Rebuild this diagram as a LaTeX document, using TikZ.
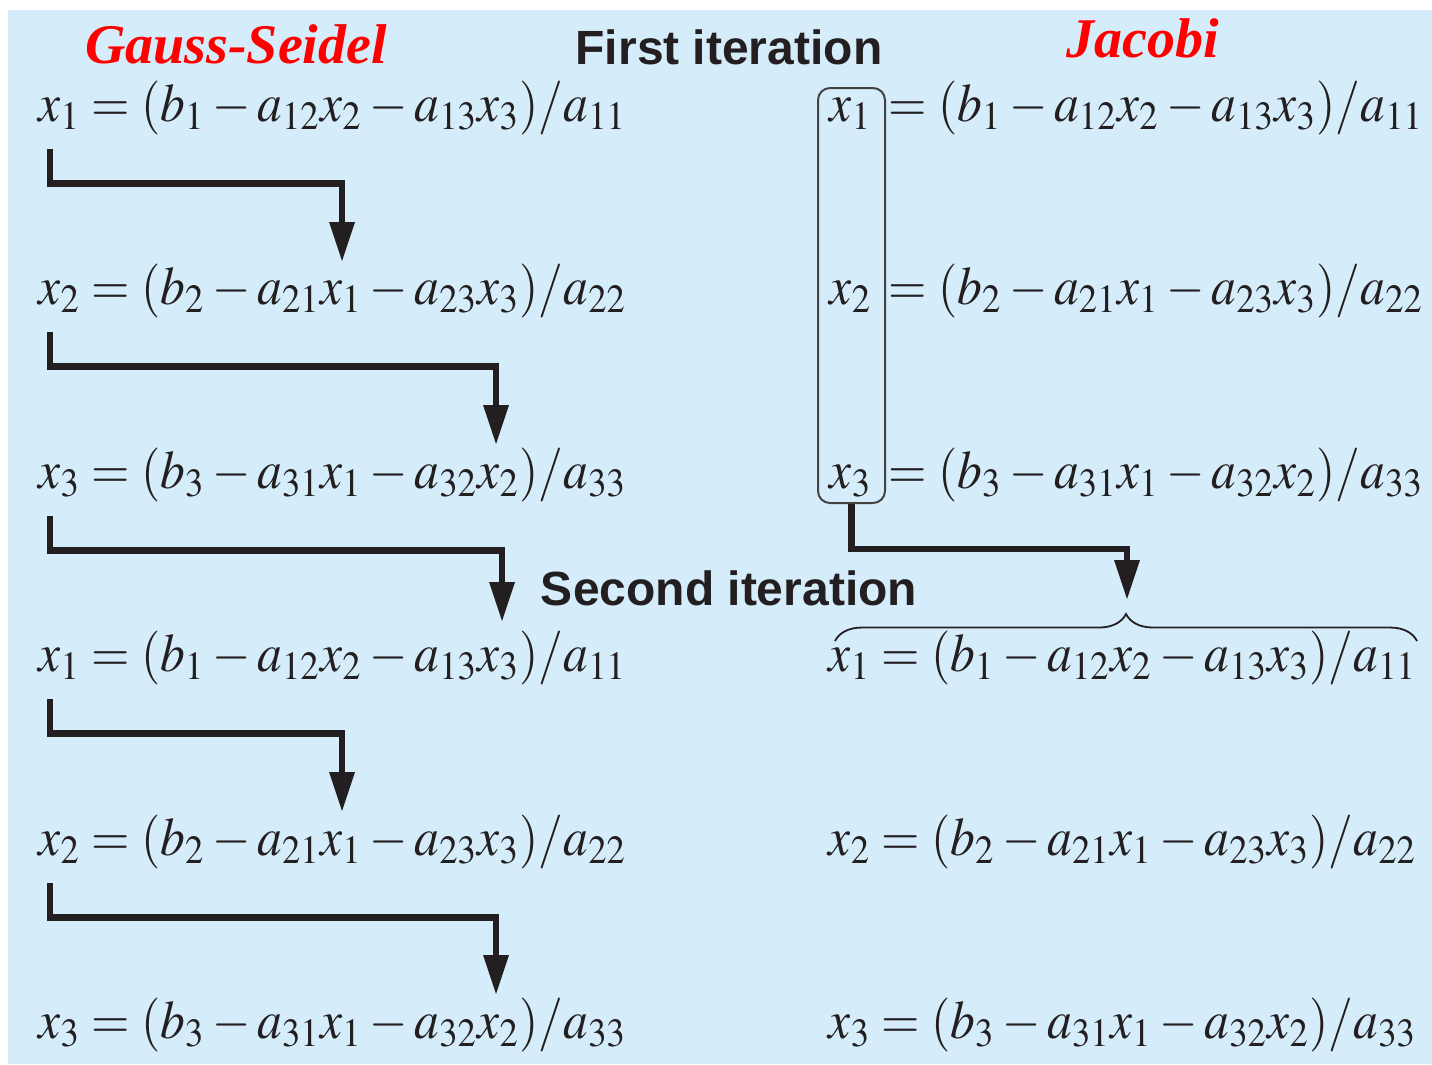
\documentclass[tikz,border=0pt]{standalone}
\usepackage{mathptmx}
\usepackage{fontspec}
\setmainfont{Liberation Serif}
\setsansfont{Liberation Sans}
\usetikzlibrary{arrows.meta,decorations.pathreplacing,positioning}
\definecolor{panelblue}{RGB}{213,237,251}
\definecolor{inkgray}{RGB}{35,31,32}
\definecolor{titlered}{RGB}{255,0,0}
\newcommand{\rhsone}{(b_1 - a_{12}x_2 - a_{13}x_3)/a_{11}}
\newcommand{\rhstwo}{(b_2 - a_{21}x_1 - a_{23}x_3)/a_{22}}
\newcommand{\rhsthree}{(b_3 - a_{31}x_1 - a_{32}x_2)/a_{33}}
\newcommand{\narrow}[1]{\scalebox{0.915}[1]{#1}}
\begin{document}
\begin{tikzpicture}[x=0.25pt, y=-0.25pt,
  eqn/.style={anchor=base west, inner sep=0pt, text=inkgray, font=\fontsize{13.5}{16}\selectfont},
  var/.style={anchor=base, inner sep=0pt, text=inkgray, font=\fontsize{13.5}{16}\selectfont},
  method/.style={inner sep=0pt, text=titlered, font=\fontsize{14}{17}\selectfont\bfseries\itshape},
  heading/.style={inner sep=0pt, text=inkgray, font=\fontsize{12}{14}\selectfont\sffamily\bfseries},
  flow/.style={draw=inkgray, line width=1.6pt, line join=miter, -{Triangle[width=6pt,length=10pt]}},
  varbox/.style={draw=inkgray!85, line width=0.5pt, rounded corners=3pt, minimum width=16.75pt, minimum height=103.75pt, inner sep=0pt},
  jbbrace/.style={draw=inkgray, line width=0.45pt, decorate, decoration={brace, amplitude=6.75pt}}]
  \useasboundingbox (0,0) rectangle (1432,1064);
  \fill[panelblue] (8,10) rectangle (1432,1064);

  % Titles
  \node[method] (gslabel) at (236,44) {Gauss-Seidel};
  \node[method] (jblabel) at (1143,38) {Jacobi};
  \node[heading] (first) at (729,47) {First iteration};
  \node[heading] (second) at (729,588) {Second iteration};

  % Gauss-Seidel column
  \node[eqn] (gs1) at (38,121) {\narrow{$x_1 = \rhsone$}};
  \node[eqn] (gs2) at (38,304) {\narrow{$x_2 = \rhstwo$}};
  \node[eqn] (gs3) at (38,488) {\narrow{$x_3 = \rhsthree$}};
  \node[eqn] (gs4) at (38,671) {\narrow{$x_1 = \rhsone$}};
  \node[eqn] (gs5) at (38,855) {\narrow{$x_2 = \rhstwo$}};
  \node[eqn] (gs6) at (38,1038) {\narrow{$x_3 = \rhsthree$}};

  % Arrow targets
  \foreach \i/\tx/\ty in {1/342/262, 2/496/445, 3/502/622, 4/342/812, 5/496/995}
    \coordinate (gst\i) at (\tx,\ty);

  % Gauss-Seidel arrows
  \foreach \i in {1,...,5}
    \draw[flow] ([xshift=3pt,yshift=-3.3pt]gs\i.south west) -- ++(0,35) -| (gst\i);

  % Jacobi column, first iteration
  \node[var] (jbv1) at (851,121) {\narrow{$x_1$}};
  \node[var] (jbv2) at (851,304) {\narrow{$x_2$}};
  \node[var] (jbv3) at (851,488) {\narrow{$x_3$}};
  \node[varbox] (jbbox) at (851.5,295.5) {};
  \node[eqn] (jb1) at (888,121) {\narrow{$= \rhsone$}};
  \node[eqn] (jb2) at (888,304) {\narrow{$= \rhstwo$}};
  \node[eqn] (jb3) at (888,488) {\narrow{$= \rhsthree$}};

  % Jacobi column, second iteration
  \node[eqn] (jb4) at (828,671) {\narrow{$x_1 = \rhsone$}};
  \node[eqn] (jb5) at (828,855) {\narrow{$x_2 = \rhstwo$}};
  \node[eqn] (jb6) at (828,1038) {\narrow{$x_3 = \rhsthree$}};

  % Brace and arrow
  \coordinate (brl) at (835,641);
  \coordinate (brr) at (1417,641);
  \draw[jbbrace] (brl) -- (brr);
  \coordinate (jbt) at (1127,600);
  \draw[flow] (jbbox.south) -- ++(0,45) -| (jbt);
\end{tikzpicture}
\end{document}
